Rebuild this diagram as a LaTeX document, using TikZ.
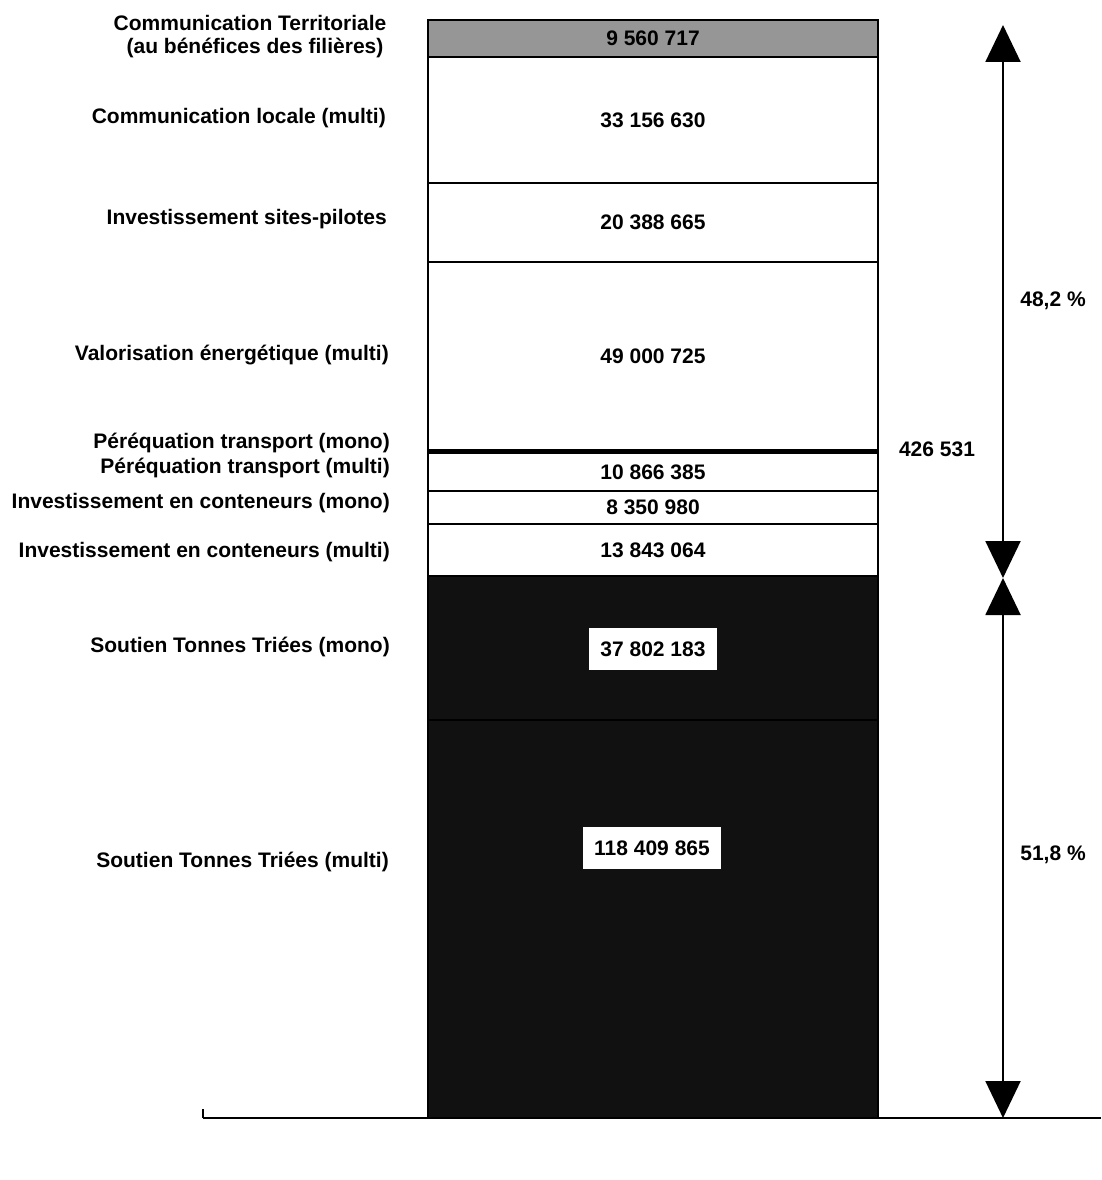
\documentclass[tikz,border=0pt]{standalone}
\usepackage{fontspec}
\setmainfont{Liberation Sans}
\usetikzlibrary{arrows.meta}
\definecolor{segblack}{HTML}{111111}
\definecolor{seggray}{HTML}{969696}
\begin{document}
\begin{tikzpicture}[x=1pt,y=-1pt,
  txt/.style={font=\bfseries\fontsize{21}{23}\selectfont, inner sep=0pt},
  seg/.style={txt, draw=black, line width=2pt, minimum width=450pt, anchor=north west, fill=white, outer sep=0pt},
  darkseg/.style={seg, fill=segblack, draw=black},
  lab/.style={txt, anchor=east},
  valbox/.style={txt, fill=white, inner xsep=11pt, inner ysep=14pt},
  dimarrow/.style={line width=2pt, {Triangle[length=37pt,width=35pt]}-{Triangle[length=37pt,width=35pt]}},
]
\useasboundingbox (0,0) rectangle (1101,1180);
% bar segments
\node[darkseg, minimum height=398pt] (s9) at (428,720) {};
\node[darkseg, minimum height=144pt] (s8) at (428,576) {};
\node[seg, minimum height=52pt] (s7) at (428,524) {13 843 064};
\node[seg, minimum height=33pt] (s6) at (428,491) {8 350 980};
\node[seg, minimum height=38pt] (s5) at (428,453) {10 866 385};
\node[seg, minimum height=188pt] (s4) at (428,262) {49 000 725};
\node[seg, fill=black, minimum height=3pt] (s45) at (428,449.5) {};
\node[seg, minimum height=79pt] (s3) at (428,183) {20 388 665};
\node[seg, minimum height=126pt] (s2) at (428,57) {33 156 630};
\node[seg, fill=seggray, minimum height=37pt] (s1) at (428,20) {9 560 717};
% values in dark segments
\node[valbox] (v8) at (653,649) {37 802 183};
\node[valbox] (v9) at (652,848) {118 409 865};
\node[txt] (v45) at (937,449) {426 531};
% left labels
\node[txt] (l1a) at (250,23) {Communication Territoriale};
\node[txt] (l1b) at (255,48) {(au bénéfices des filières)};
\node[lab] (l2) at (386,118) {Communication locale (multi)};
\node[lab] (l3) at (387,219) {Investissement sites-pilotes};
\node[lab] (l4) at (389,355) {Valorisation énergétique (multi)};
\node[lab] (l45) at (390,443) {Péréquation transport (mono)};
\node[lab] (l5) at (390,468) {Péréquation transport (multi)};
\node[lab] (l6) at (390,503) {Investissement en conteneurs (mono)};
\node[lab] (l7) at (390,552) {Investissement en conteneurs (multi)};
\node[lab] (l8) at (390,647) {Soutien Tonnes Triées (mono)};
\node[lab] (l9) at (389,862) {Soutien Tonnes Triées (multi)};
% axis
\coordinate (ax0) at (203,1118);
\coordinate (ax1) at (1101,1118);
\coordinate (tk) at (203,1109);
\draw[line width=2pt] (ax0) -- (ax1);
\draw[line width=1.5pt] (tk) -- (ax0);
% dimension arrows
\coordinate (a1) at (1003,25);
\coordinate (a2) at (1003,578);
\coordinate (a3) at (1003,1118);
\draw[dimarrow] (a2) -- (a1);
\draw[dimarrow] (a2) -- (a3);
\node[txt] (p1) at (1053,301) {48,2 \%};
\node[txt] (p2) at (1053,855) {51,8 \%};
\end{tikzpicture}
\end{document}
